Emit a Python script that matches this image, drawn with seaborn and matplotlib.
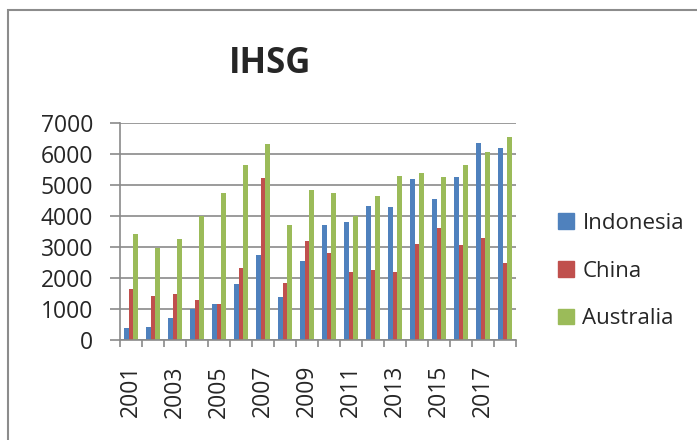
import pandas as pd
import matplotlib.pyplot as plt
import seaborn as sns
from matplotlib.patches import Rectangle

# data
years = list(range(2001, 2019))
indonesia = [380, 420, 710, 990, 1170, 1800, 2730, 1380, 2540,
             3700, 3820, 4310, 4280, 5180, 4560, 5270, 6340, 6180]
china = [1660, 1420, 1500, 1290, 1170, 2320, 5230, 1830, 3190,
         2820, 2200, 2250, 2200, 3110, 3610, 3080, 3280, 2490]
australia = [3410, 2980, 3250, 4000, 4730, 5630, 6310, 3700, 4850,
             4730, 4000, 4650, 5300, 5390, 5270, 5630, 6050, 6550]
series = ['Indonesia', 'China', 'Australia']
colors = ['#4F81BD', '#C0504D', '#9BBB59']

df = pd.DataFrame({'year': years, 'Indonesia': indonesia,
                   'China': china, 'Australia': australia})
df_long = df.melt(id_vars='year', var_name='country', value_name='value')

sns.set_style('white')
plt.rcParams['font.family'] = ['Open Sans', 'DejaVu Sans']

W, H = 697, 440
fig = plt.figure(figsize=(W / 100, H / 100), dpi=100)
ax = fig.add_axes([120 / W, 1 - 340 / H, (516 - 120) / W, (340 - 123) / H])

sns.barplot(data=df_long, x='year', y='value', hue='country',
            hue_order=series, palette=colors, saturation=1,
            width=0.64, linewidth=0, ax=ax, legend=False)

# chart frame
fig.patches.append(Rectangle((8 / W, -0.1), 1.2, 1 - 10 / H + 0.1,
                             transform=fig.transFigure, fill=False,
                             edgecolor='#8c8c8c', lw=1.5))

ax.set_ylim(0, 7000)
ax.set_xlim(-0.5, len(years) - 0.5)
ax.set_yticks(range(0, 7001, 1000))
ax.yaxis.grid(True, color='#8a8a8a', lw=1.2)
ax.set_axisbelow(True)
ax.tick_params(axis='y', length=7.2, width=1.2, color='#8a8a8a',
               labelsize=16.5, pad=12, left=True)

ax.set_xticks(range(len(years)))
ax.set_xticklabels([str(y) if i % 2 == 0 else '' for i, y in enumerate(years)],
                   rotation=90)
ax.tick_params(axis='x', length=0, labelsize=16.5, pad=18)
ax.set_xticks([i - 0.5 for i in range(len(years) + 1)], minor=True)
ax.tick_params(axis='x', which='minor', length=5, width=1.2,
               color='#8a8a8a', bottom=True)

for s in ['top', 'right']:
    ax.spines[s].set_visible(False)
for s in ['left', 'bottom']:
    ax.spines[s].set_color('#8a8a8a')
    ax.spines[s].set_linewidth(1.2)
ax.set_xlabel('')
ax.set_ylabel('')

fig.text(270 / W, 1 - 64 / H, 'IHSG', ha='center', va='center',
         fontsize=25, fontweight='bold')

handles = [Rectangle((0, 0), 1, 1, color=c) for c in colors]
fig.legend(handles, series, loc='upper left',
           bbox_to_anchor=(538 / W, 1 - 193 / H), frameon=False,
           fontsize=16, handlelength=0.7, handleheight=0.7,
           handletextpad=0.4, labelspacing=1.2)

fig.savefig('out.png', dpi=100)
